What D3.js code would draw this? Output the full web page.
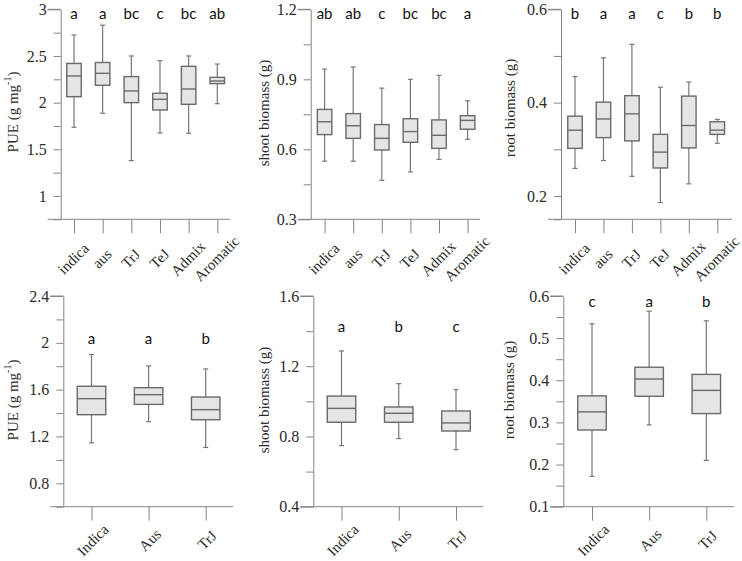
<!DOCTYPE html>
<html>
<head>
<meta charset="utf-8">
<script src="https://cdn.jsdelivr.net/npm/d3@7"></script>
<style>
  html, body { margin: 0; padding: 0; background: #fff; }
  svg { display: block; }
</style>
</head>
<body>
<svg id="chart" width="742" height="561"></svg>
<script>
// ---------- data ----------
const topCategories = ["indica", "aus", "TrJ", "TeJ", "Admix", "Aromatic"];
const bottomCategories = ["Indica", "Aus", "TrJ"];

// each entry: [min, Q1, median, Q3, max]
const pueTop = [
  [1.736, 2.064, 2.286, 2.420, 2.725],
  [1.886, 2.186, 2.314, 2.430, 2.830],
  [1.379, 2.000, 2.125, 2.279, 2.500],
  [1.675, 1.921, 2.036, 2.100, 2.450],
  [1.671, 1.982, 2.146, 2.389, 2.500],
  [1.989, 2.204, 2.232, 2.271, 2.414]
];
const shootTop = [
  [0.549, 0.663, 0.718, 0.771, 0.944],
  [0.549, 0.647, 0.701, 0.753, 0.953],
  [0.467, 0.597, 0.647, 0.706, 0.862],
  [0.503, 0.630, 0.676, 0.731, 0.900],
  [0.557, 0.604, 0.660, 0.726, 0.917],
  [0.643, 0.686, 0.724, 0.744, 0.808]
];
const rootTop = [
  [0.259, 0.302, 0.341, 0.371, 0.456],
  [0.276, 0.325, 0.365, 0.401, 0.496],
  [0.242, 0.318, 0.376, 0.415, 0.525],
  [0.186, 0.260, 0.294, 0.332, 0.433],
  [0.226, 0.303, 0.351, 0.414, 0.444],
  [0.313, 0.332, 0.341, 0.359, 0.364]
];
const pueBottom = [
  [1.146, 1.386, 1.523, 1.629, 1.900],
  [1.326, 1.474, 1.557, 1.617, 1.803],
  [1.106, 1.343, 1.429, 1.537, 1.777]
];
const shootBottom = [
  [0.748, 0.881, 0.960, 1.030, 1.287],
  [0.788, 0.881, 0.932, 0.968, 1.101],
  [0.725, 0.831, 0.877, 0.945, 1.067]
];
const rootBottom = [
  [0.172, 0.282, 0.325, 0.363, 0.534],
  [0.294, 0.362, 0.403, 0.431, 0.564],
  [0.210, 0.321, 0.376, 0.414, 0.541]
];

const pueTopLetters = ["a", "a", "bc", "c", "bc", "ab"];
const shootTopLetters = ["ab", "ab", "c", "bc", "bc", "a"];
const rootTopLetters = ["b", "a", "a", "c", "b", "b"];
const pueBottomLetters = ["a", "a", "b"];
const shootBottomLetters = ["a", "b", "c"];
const rootBottomLetters = ["c", "a", "b"];

const pueTopTicks = [1, 1.5, 2, 2.5, 3];
const shootTopTicks = [0.3, 0.6, 0.9, 1.2];
const rootTopTicks = [0.2, 0.4, 0.6];
const pueBottomTicks = [0.8, 1.2, 1.6, 2, 2.4];
const shootBottomTicks = [0.4, 0.8, 1.2, 1.6];
const rootBottomTicks = [0.1, 0.2, 0.3, 0.4, 0.5, 0.6];

const pueTopMinor = [0.75, 1.25, 1.75, 2.25, 2.75];
const shootTopMinor = [0.45, 0.75, 1.05];
const rootTopMinor = [0.15, 0.3, 0.5];
const pueBottomMinor = [0.6, 1.0, 1.4, 1.8, 2.2];
const shootBottomMinor = [0.6, 1.0, 1.4];
const rootBottomMinor = [0.15, 0.25, 0.35, 0.45, 0.55];

// ---------- layout ----------
const TOP = { y0: 219.3, y1: 9.3, labelDY: 43, labelDX: 3 };
const BOT = { y0: 506.7, y1: 296, labelDY: 37, labelDX: 5 };

const panels = [
  { row: TOP, ax: 60.7, xr: [74, 217.3], xEnd: 230, domain: [0.75, 3], cats: topCategories, stats: pueTop, letters: pueTopLetters, ticks: pueTopTicks, minor: pueTopMinor, fmt: d3.format(""), title: "pue", titleX: 13, titleY: 112, letterY: 19, boxW: 14.5 },
  { row: TOP, ax: 310.7, xr: [324.6, 467.6], xEnd: 480, domain: [0.3, 1.2], cats: topCategories, stats: shootTop, letters: shootTopLetters, ticks: shootTopTicks, minor: shootTopMinor, fmt: d3.format(".1f"), title: "shoot biomass (g)", titleX: 263.5, titleY: 113, letterY: 19, boxW: 14.5 },
  { row: TOP, ax: 561, xr: [575, 717.3], xEnd: 732, domain: [0.15, 0.6], cats: topCategories, stats: rootTop, letters: rootTopLetters, ticks: rootTopTicks, minor: rootTopMinor, fmt: d3.format(".1f"), title: "root biomass (g)", titleX: 510, titleY: 108, letterY: 19, boxW: 14.5 },
  { row: BOT, ax: 63.3, xr: [91.5, 205.7], xEnd: 233, domain: [0.6, 2.4], cats: bottomCategories, stats: pueBottom, letters: pueBottomLetters, ticks: pueBottomTicks, minor: pueBottomMinor, fmt: d3.format(""), title: "pue", titleX: 13, titleY: 400, letterY: 344, boxW: 28.5 },
  { row: BOT, ax: 313.3, xr: [341.5, 456], xEnd: 483, domain: [0.4, 1.6], cats: bottomCategories, stats: shootBottom, letters: shootBottomLetters, ticks: shootBottomTicks, minor: shootBottomMinor, fmt: d3.format(".1f"), title: "shoot biomass (g)", titleX: 263.5, titleY: 400, letterY: 331.5, boxW: 28.5 },
  { row: BOT, ax: 563.3, xr: [592, 706.3], xEnd: 734, domain: [0.1, 0.6], cats: bottomCategories, stats: rootBottom, letters: rootBottomLetters, ticks: rootBottomTicks, minor: rootBottomMinor, fmt: d3.format(".1f"), title: "root biomass (g)", titleX: 509, titleY: 390, letterY: 306.5, boxW: 28.5 }
];

const AXIS = "#858585";
const BOX_STROKE = "#6a6a6a";
const WHISK = "#777777";
const FILL = "#e5e5e5";
const SERIF = "'Liberation Serif', 'Times New Roman', serif";
const SANS = "Lato, 'Open Sans', sans-serif";

const svg = d3.select("#chart");

panels.forEach(p => {
  const y = d3.scaleLinear().domain(p.domain).range([p.row.y0, p.row.y1]);
  const x = d3.scalePoint().domain(p.cats).range(p.xr);
  const g = svg.append("g");

  // minor ticks
  const minorAxis = d3.axisLeft(y).tickValues(p.minor).tickSize(7).tickFormat("").tickSizeOuter(0);
  const gm = g.append("g").attr("transform", `translate(${p.ax},0)`).call(minorAxis);
  gm.select(".domain").remove();
  gm.selectAll("line").attr("stroke", AXIS);

  // major ticks + labels
  const majorAxis = d3.axisLeft(y).tickValues(p.ticks).tickSize(7).tickPadding(7).tickFormat(p.fmt).tickSizeOuter(0);
  const gy = g.append("g").attr("transform", `translate(${p.ax},0)`).call(majorAxis);
  gy.select(".domain").attr("stroke", AXIS);
  gy.selectAll(".tick line").attr("stroke", AXIS)
    .attr("x2", d => (d === p.domain[0] || d === p.domain[1]) ? -13 : -7);
  gy.selectAll(".tick text")
    .attr("font-family", SERIF).attr("font-size", 16).attr("fill", "#2a2a2a");
  // longer ticks at both ends of the value axis
  [p.domain[0], p.domain[1]].forEach(v => {
    g.append("line").attr("x1", p.ax - 13).attr("x2", p.ax)
      .attr("y1", y(v)).attr("y2", y(v)).attr("stroke", AXIS);
  });

  // x axis
  g.append("line").attr("x1", p.ax).attr("x2", p.xEnd)
    .attr("y1", y(p.domain[0])).attr("y2", y(p.domain[0])).attr("stroke", AXIS);
  const xAxis = d3.axisBottom(x).tickSize(14).tickFormat("").tickSizeOuter(0);
  const gx = g.append("g").attr("transform", `translate(0,${y(p.domain[0])})`).call(xAxis);
  gx.select(".domain").remove();
  gx.selectAll("line").attr("stroke", AXIS);

  // category labels
  g.selectAll(".xl").data(p.cats).enter().append("text")
    .attr("transform", d => `translate(${x(d) + p.row.labelDX},${y(p.domain[0]) + p.row.labelDY}) rotate(-45)`)
    .attr("text-anchor", "middle")
    .attr("font-family", SERIF).attr("font-size", 15).attr("fill", "#2a2a2a")
    .text(d => d);

  // boxes
  const bw = p.boxW, cap = 5;
  const bg = g.selectAll(".bx").data(p.stats).enter().append("g");
  bg.append("line").attr("x1", (d, i) => x(p.cats[i])).attr("x2", (d, i) => x(p.cats[i]))
    .attr("y1", d => y(d[0])).attr("y2", d => y(d[1])).attr("stroke", WHISK).attr("stroke-width", 1.2);
  bg.append("line").attr("x1", (d, i) => x(p.cats[i])).attr("x2", (d, i) => x(p.cats[i]))
    .attr("y1", d => y(d[3])).attr("y2", d => y(d[4])).attr("stroke", WHISK).attr("stroke-width", 1.2);
  bg.append("line").attr("x1", (d, i) => x(p.cats[i]) - cap / 2).attr("x2", (d, i) => x(p.cats[i]) + cap / 2)
    .attr("y1", d => y(d[0])).attr("y2", d => y(d[0])).attr("stroke", WHISK).attr("stroke-width", 1.2);
  bg.append("line").attr("x1", (d, i) => x(p.cats[i]) - cap / 2).attr("x2", (d, i) => x(p.cats[i]) + cap / 2)
    .attr("y1", d => y(d[4])).attr("y2", d => y(d[4])).attr("stroke", WHISK).attr("stroke-width", 1.2);
  bg.append("rect")
    .attr("x", (d, i) => x(p.cats[i]) - bw / 2).attr("width", bw)
    .attr("y", d => y(d[3])).attr("height", d => y(d[1]) - y(d[3]))
    .attr("fill", FILL).attr("stroke", BOX_STROKE).attr("stroke-width", 1.4);
  bg.append("line").attr("x1", (d, i) => x(p.cats[i]) - bw / 2).attr("x2", (d, i) => x(p.cats[i]) + bw / 2)
    .attr("y1", d => y(d[2])).attr("y2", d => y(d[2])).attr("stroke", BOX_STROKE).attr("stroke-width", 1.4);

  // significance letters
  g.selectAll(".lt").data(p.letters).enter().append("text")
    .attr("x", (d, i) => x(p.cats[i])).attr("y", p.letterY)
    .attr("text-anchor", "middle")
    .attr("font-family", SANS).attr("font-size", 15).attr("fill", "#111")
    .text(d => d);

  // y-axis title
  const t = g.append("text")
    .attr("transform", `translate(${p.titleX},${p.titleY}) rotate(-90)`)
    .attr("text-anchor", "middle").attr("dominant-baseline", "central")
    .attr("font-family", SERIF).attr("font-size", 15).attr("fill", "#2a2a2a");
  if (p.title === "pue") {
    t.append("tspan").text("PUE (g mg");
    t.append("tspan").attr("font-size", 10).attr("dy", -6).text("-1");
    t.append("tspan").attr("dy", 6).text(")");
  } else {
    t.text(p.title);
  }
});
</script>
</body>
</html>
